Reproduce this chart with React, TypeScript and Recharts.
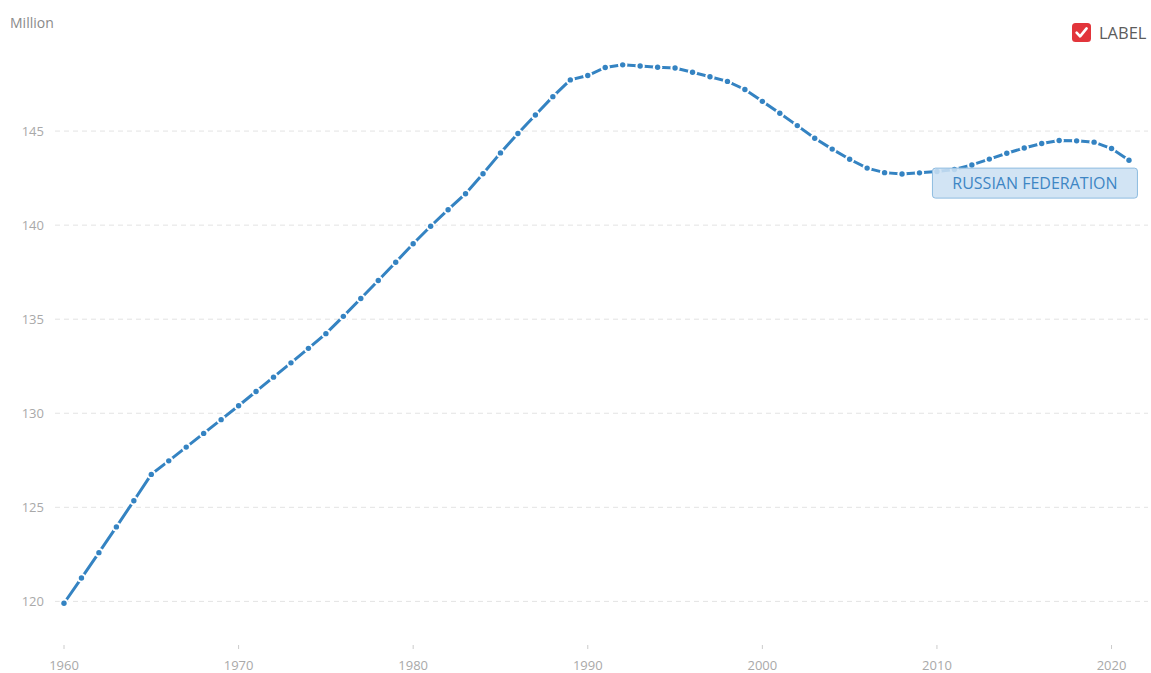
import React from "react";
import { LineChart, Line, XAxis, YAxis, CartesianGrid } from "recharts";

const years = [
  1960, 1961, 1962, 1963, 1964, 1965, 1966, 1967, 1968, 1969,
  1970, 1971, 1972, 1973, 1974, 1975, 1976, 1977, 1978, 1979,
  1980, 1981, 1982, 1983, 1984, 1985, 1986, 1987, 1988, 1989,
  1990, 1991, 1992, 1993, 1994, 1995, 1996, 1997, 1998, 1999,
  2000, 2001, 2002, 2003, 2004, 2005, 2006, 2007, 2008, 2009,
  2010, 2011, 2012, 2013, 2014, 2015, 2016, 2017, 2018, 2019,
  2020, 2021,
];

const population = [
  119.9, 121.24, 122.59, 123.96, 125.35, 126.75, 127.47, 128.2, 128.93, 129.66,
  130.4, 131.16, 131.92, 132.68, 133.45, 134.23, 135.15, 136.1, 137.06, 138.03,
  139.01, 139.94, 140.82, 141.67, 142.73, 143.84, 144.87, 145.85, 146.83, 147.72,
  147.95, 148.38, 148.52, 148.46, 148.39, 148.35, 148.13, 147.89, 147.64, 147.21,
  146.58, 145.95, 145.29, 144.62, 144.04, 143.5, 143.03, 142.79, 142.72, 142.78,
  142.85, 142.96, 143.2, 143.51, 143.82, 144.1, 144.34, 144.5, 144.48, 144.41,
  144.07, 143.45,
];

const xTicks = [1960, 1970, 1980, 1990, 2000, 2010, 2020];
const yTicks = [120, 125, 130, 135, 140, 145];
const seriesName = "RUSSIAN FEDERATION";
const labelYear = 2010;
const unitLabel = "Million";
const legendLabel = "LABEL";

const data = years.map((y, i) => ({ year: y, value: population[i] }));
const labelIndex = years.indexOf(labelYear);

const LINE_COLOR = "#3483c2";
const FONT = "'Open Sans', sans-serif";
const TICK_COLOR = "#a9a9a9";

const Dot = (props: any) => {
  const { cx, cy, index } = props;
  if (cx == null || cy == null) return <g key={`d${index}`} />;
  return (
    <g key={`d${index}`}>
      <circle cx={cx} cy={cy} r={4.7} fill="#ffffff" />
      <circle cx={cx} cy={cy} r={2.7} fill={LINE_COLOR} />
    </g>
  );
};

const SeriesLabel = (props: any) => {
  const { x, y, index } = props;
  if (index !== labelIndex || x == null || y == null) return <g key={`l${index}`} />;
  const bx = x - 4.5;
  const by = y - 3.4;
  return (
    <g key={`l${index}`}>
      <rect
        x={bx}
        y={by}
        width={205}
        height={30}
        rx={3}
        ry={3}
        fill="rgba(204,224,242,0.88)"
        stroke="#8dbbe0"
        strokeWidth={1}
      />
      <text
        x={bx + 102.5}
        y={by + 21}
        textAnchor="middle"
        fontFamily={FONT}
        fontSize={16}
        fill="#3e86c4"
      >
        {seriesName}
      </text>
    </g>
  );
};

const XTick = (props: any) => {
  const { x, y, payload } = props;
  return (
    <g>
      <line x1={x} x2={x} y1={y + 6} y2={y + 10} stroke="#cccccc" strokeWidth={1} />
      <text x={x} y={y + 31} textAnchor="middle" fontFamily={FONT} fontSize={13} fill={TICK_COLOR}>
        {payload.value}
      </text>
    </g>
  );
};

export default function App() {
  return (
    <div style={{ position: "absolute", left: 0, top: 0, width: 1151, height: 673, background: "#fff" }}>
      <div
        style={{
          position: "absolute",
          left: 10,
          top: 13,
          fontFamily: FONT,
          fontSize: 14,
          color: "#8a8a8a",
        }}
      >
        {unitLabel}
      </div>
      <div
        style={{
          position: "absolute",
          left: 1072,
          top: 21,
          height: 22,
          display: "flex",
          alignItems: "center",
          fontFamily: FONT,
          fontSize: 16.5,
          color: "#5c5c5c",
        }}
      >
        <svg width={19} height={19} style={{ display: "block" }}>
          <rect x={0} y={0} width={19} height={19} rx={3.5} fill="#e2353b" />
          <path d="M4.6 9.6 L8.1 13.4 L14.6 5.4" stroke="#ffffff" strokeWidth={2.6} fill="none" strokeLinecap="round" strokeLinejoin="round" />
        </svg>
        <span style={{ marginLeft: 8 }}>{legendLabel}</span>
      </div>
      <LineChart
        width={1151}
        height={673}
        data={data}
        margin={{ top: 37, right: 3, bottom: 0, left: 0 }}
      >
        <CartesianGrid
          vertical={false}
          stroke="#e3e3e3"
          strokeDasharray="5 4"
          syncWithTicks
          horizontalValues={yTicks}
        />
        <XAxis
          dataKey="year"
          type="number"
          domain={[1960, 2021]}
          ticks={xTicks}
          padding={{ left: 9, right: 19 }}
          axisLine={false}
          tickLine={false}
          tickSize={0}
          tickMargin={0}
          height={34}
          tick={<XTick />}
          interval={0}
        />
        <YAxis
          type="number"
          domain={[118, 150]}
          ticks={yTicks}
          axisLine={false}
          tickLine={false}
          tickSize={0}
          tickMargin={11}
          width={55}
          tick={{ fontFamily: FONT, fontSize: 13, fill: TICK_COLOR }}
          interval={0}
        />
        <Line
          type="linear"
          dataKey="value"
          stroke={LINE_COLOR}
          strokeWidth={3}
          dot={<Dot />}
          activeDot={false}
          isAnimationActive={false}
          label={<SeriesLabel />}
        />
      </LineChart>
    </div>
  );
}
